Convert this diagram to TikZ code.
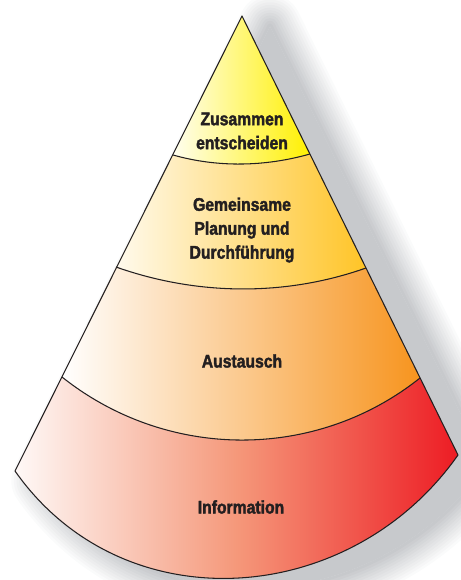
\documentclass[tikz,border=0pt]{standalone}
\usepackage{fontspec}
\setmainfont{Liberation Sans}[FakeStretch=0.86,BoldFeatures={FakeBold=2}]
\definecolor{ink}{RGB}{35,31,32}
\definecolor{shadowgray}{RGB}{199,201,204}
\definecolor{yellowtop}{RGB}{255,240,0}
\definecolor{goldband}{RGB}{255,196,38}
\definecolor{orangeband}{RGB}{247,148,30}
\definecolor{salmon}{RGB}{245,152,122}
\definecolor{redband}{RGB}{237,28,36}

\begin{document}
\begin{tikzpicture}[
	rim/.style={draw=ink,line width=0.6pt,line join=round},
	lbl/.style={font=\bfseries\fontsize{10.4}{13.6}\selectfont,text=ink,align=center}
	]
	\useasboundingbox (0,0) rectangle (9.2,11.6);
	% corners of the cone
	\coordinate (apex) at (4.84,11.28);
	\coordinate (l1) at (3.46,8.50); \coordinate (r1) at (6.20,8.52);
	\coordinate (l2) at (2.32,6.26); \coordinate (r2) at (7.32,6.24);
	\coordinate (l3) at (1.24,4.06); \coordinate (r3) at (8.40,4.04);
	\coordinate (l4) at (0.30,2.18); \coordinate (r4) at (9.16,2.50);
	% soft shadow
	\begin{scope}[transform canvas={shift={(0.56,-0.20)}}]
		\fill[shadowgray] (apex) -- (l4) .. controls (2.458,-0.89) and (7.002,-0.57) .. (r4) -- cycle;
		\begin{scope}[even odd rule]
			\clip (-5,-5) rectangle (15,17)
				(apex) -- (l4) .. controls (2.458,-0.89) and (7.002,-0.57) .. (r4) -- cycle;
			\foreach \k in {1,...,12} {
				\draw[shadowgray,line join=round,line width={(13-\k)*3pt},opacity={1/(13-\k)}]
				(apex) -- (l4) .. controls (2.458,-0.89) and (7.002,-0.57) .. (r4) -- cycle;
			}
		\end{scope}
	\end{scope}
	% bands
	\shade[left color=yellowtop!6,right color=yellowtop] (apex) -- (l1) .. controls (4.356,8.246) and (5.304,8.266) .. (r1) -- cycle;
	\shade[left color=goldband!8,right color=goldband] (l1) -- (l2) .. controls (3.936,5.688) and (5.704,5.668) .. (r2) -- (r1) .. controls (5.304,8.266) and (4.356,8.246) .. (l1);
	\shade[left color=white,right color=orangeband] (l2) -- (l3) .. controls (3.336,2.392) and (6.304,2.372) .. (r3) -- (r2) .. controls (5.704,5.668) and (3.936,5.688) .. (l2);
	\shade[left color=salmon!6,right color=redband,middle color=salmon] (l3) -- (l4) .. controls (2.458,-0.89) and (7.002,-0.57) .. (r4) -- (r3) .. controls (6.304,2.372) and (3.336,2.392) .. (l3);
	% outlines
	\draw[rim] (apex) -- (l4) .. controls (2.458,-0.89) and (7.002,-0.57) .. (r4) -- cycle;
	\draw[rim] (l1) .. controls (4.356,8.246) and (5.304,8.266) .. (r1);
	\draw[rim] (l2) .. controls (3.936,5.688) and (5.704,5.668) .. (r2);
	\draw[rim] (l3) .. controls (3.336,2.392) and (6.304,2.372) .. (r3);
	% labels
	\node[lbl] (decide) at (4.84,8.98) {Zusammen\\entscheiden};
	\node[lbl] (plan) at (4.84,7.00) {Gemeinsame\\Planung und\\Durchführung};
	\node[lbl] (exchange) at (4.84,4.38) {Austausch};
	\node[lbl] (info) at (4.82,1.46) {Information};
\end{tikzpicture}
\end{document}
